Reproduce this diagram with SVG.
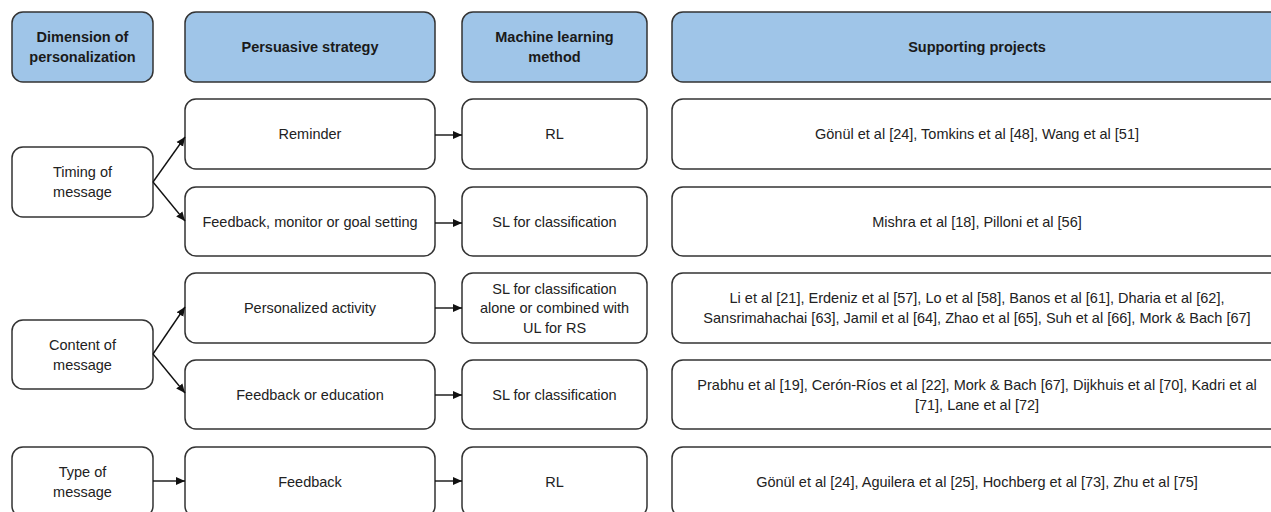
<svg xmlns="http://www.w3.org/2000/svg" width="1271" height="512" viewBox="0 0 1271 512">
<style>
.box{fill:#ffffff;stroke:#333333;stroke-width:1.5}
.hdr{fill:#9fc5e8;stroke:#333333;stroke-width:1.5}
text{font-family:"Liberation Sans",Arial,sans-serif;font-size:14.5px;fill:#222222;text-anchor:middle}
.h{font-weight:bold;fill:#1a1a1a}
.conn{stroke:#111111;stroke-width:1.4;fill:none;marker-end:url(#arr)}
</style>
<defs>
<marker id="arr" markerUnits="userSpaceOnUse" markerWidth="9" markerHeight="9" refX="9" refY="4.5" orient="auto">
<path d="M0,0.5 L9,4.5 L0,8.5 z" fill="#111111"/>
</marker>
</defs>
<rect width="1271" height="512" fill="#ffffff"/>

<g id="hdr-dimension"><rect class="hdr" x="12" y="12" width="141" height="70" rx="11"/><text class="h" x="82.5" y="42">Dimension of</text><text class="h" x="82.5" y="62">personalization</text></g>
<g id="hdr-strategy"><rect class="hdr" x="185" y="12" width="250" height="70" rx="11"/><text class="h" x="310" y="52">Persuasive strategy</text></g>
<g id="hdr-method"><rect class="hdr" x="462" y="12" width="185" height="70" rx="11"/><text class="h" x="554.5" y="42">Machine learning</text><text class="h" x="554.5" y="62">method</text></g>
<g id="hdr-projects"><rect class="hdr" x="672" y="12" width="610" height="70" rx="11"/><text class="h" x="977" y="52">Supporting projects</text></g>

<g id="timing"><rect class="box" x="12" y="147" width="141" height="70" rx="11"/><text x="82.5" y="177">Timing of</text><text x="82.5" y="197">message</text></g>
<g id="content"><rect class="box" x="12" y="320" width="141" height="69" rx="11"/><text x="82.5" y="349.5">Content of</text><text x="82.5" y="369.5">message</text></g>
<g id="type"><rect class="box" x="12" y="447" width="141" height="70" rx="11"/><text x="82.5" y="477">Type of</text><text x="82.5" y="497">message</text></g>

<g id="reminder"><rect class="box" x="185" y="99" width="250" height="70" rx="11"/><text x="310" y="139">Reminder</text></g>
<g id="feedback-monitor"><rect class="box" x="185" y="187" width="250" height="69" rx="11"/><text x="310" y="227">Feedback, monitor or goal setting</text></g>
<g id="personalized-activity"><rect class="box" x="185" y="273" width="250" height="70" rx="11"/><text x="310" y="313">Personalized activity</text></g>
<g id="feedback-education"><rect class="box" x="185" y="360" width="250" height="69" rx="11"/><text x="310" y="400">Feedback or education</text></g>
<g id="feedback"><rect class="box" x="185" y="447" width="250" height="70" rx="11"/><text x="310" y="487">Feedback</text></g>

<g id="rl-1"><rect class="box" x="462" y="99" width="185" height="70" rx="11"/><text x="554.5" y="139">RL</text></g>
<g id="sl-1"><rect class="box" x="462" y="187" width="185" height="69" rx="11"/><text x="554.5" y="227">SL for classification</text></g>
<g id="sl-ul"><rect class="box" x="462" y="273" width="185" height="70" rx="11"/><text x="554.5" y="293.5">SL for classification</text><text x="554.5" y="313">alone or combined with</text><text x="554.5" y="332.5">UL for RS</text></g>
<g id="sl-2"><rect class="box" x="462" y="360" width="185" height="69" rx="11"/><text x="554.5" y="400">SL for classification</text></g>
<g id="rl-2"><rect class="box" x="462" y="447" width="185" height="70" rx="11"/><text x="554.5" y="487">RL</text></g>

<g id="proj-1"><rect class="box" x="672" y="99" width="610" height="70" rx="11"/><text x="977" y="139">Gönül et al [24], Tomkins et al [48], Wang et al [51]</text></g>
<g id="proj-2"><rect class="box" x="672" y="187" width="610" height="69" rx="11"/><text x="977" y="227">Mishra et al [18], Pilloni et al [56]</text></g>
<g id="proj-3"><rect class="box" x="672" y="273" width="610" height="70" rx="11"/><text x="977" y="303">Li et al [21], Erdeniz et al [57], Lo et al [58], Banos et al [61], Dharia et al [62],</text><text x="977" y="323">Sansrimahachai [63], Jamil et al [64], Zhao et al [65], Suh et al [66], Mork &amp; Bach [67]</text></g>
<g id="proj-4"><rect class="box" x="672" y="360" width="610" height="69" rx="11"/><text x="977" y="390">Prabhu et al [19], Cerón-Ríos et al [22], Mork &amp; Bach [67], Dijkhuis et al [70], Kadri et al</text><text x="977" y="410">[71], Lane et al [72]</text></g>
<g id="proj-5"><rect class="box" x="672" y="447" width="610" height="70" rx="11"/><text x="977" y="487">Gönül et al [24], Aguilera et al [25], Hochberg et al [73], Zhu et al [75]</text></g>

<g id="connectors">
<path class="conn" d="M153,182 L185,137"/>
<path class="conn" d="M153,182 L185,221"/>
<path class="conn" d="M153,354 L185,307"/>
<path class="conn" d="M153,354 L185,393"/>
<path class="conn" d="M153,481 L185,481"/>
<path class="conn" d="M435,135 L462,135"/>
<path class="conn" d="M435,223 L462,223"/>
<path class="conn" d="M435,308 L462,308"/>
<path class="conn" d="M435,395 L462,395"/>
<path class="conn" d="M435,481 L462,481"/>
</g>
</svg>
